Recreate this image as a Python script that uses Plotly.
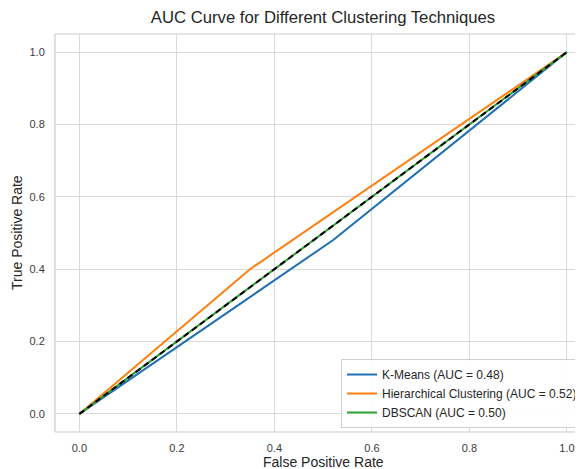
import plotly.graph_objects as go

# Data
kmeans_fpr = [0.0, 0.52, 1.0]
kmeans_tpr = [0.0, 0.48, 1.0]
hier_fpr = [0.0, 0.35, 1.0]
hier_tpr = [0.0, 0.40, 1.0]
dbscan_fpr = [0.0, 1.0]
dbscan_tpr = [0.0, 1.0]
diag = [0.0, 1.0]
names = ["K-Means (AUC = 0.48)", "Hierarchical Clustering (AUC = 0.52)", "DBSCAN (AUC = 0.50)"]
tick_vals = [0.0, 0.2, 0.4, 0.6, 0.8, 1.0]
tick_text = ["0.0", "0.2", "0.4", "0.6", "0.8", "1.0"]

FONT = "Liberation Sans, Arial, sans-serif"
GRID = "#d9d9d9"
TXT = "#3a3a3a"
OFF = 8  # page body margin of the browser
W, H = 583 - OFF, 469 - OFF
ML, MR, MT, MB = 55 - OFF, 0, 34 - OFF, 37
PW, PH = W - ML - MR, H - MT - MB

fig = go.Figure()
fig.add_trace(go.Scatter(x=kmeans_fpr, y=kmeans_tpr, mode="lines", name=names[0],
                         line=dict(color="#1f6fb4", width=2)))
fig.add_trace(go.Scatter(x=hier_fpr, y=hier_tpr, mode="lines", name=names[1],
                         line=dict(color="#ff7f0e", width=2)))
fig.add_trace(go.Scatter(x=dbscan_fpr, y=dbscan_tpr, mode="lines", name=names[2],
                         line=dict(color="#2ca02c", width=2)))
fig.add_trace(go.Scatter(x=diag, y=diag, mode="lines", showlegend=False,
                         line=dict(color="black", width=2, dash="6px,4px")))

fig.update_layout(
    width=W, height=H,
    margin=dict(l=ML, r=MR, t=MT, b=MB, autoexpand=False),
    paper_bgcolor="white", plot_bgcolor="white",
    font=dict(family=FONT, color=TXT, size=11),
    title=dict(text="AUC Curve for Different Clustering Techniques",
               x=(323 - OFF) / W, xanchor="center", y=1 - (17 - OFF) / H, yanchor="middle",
               font=dict(size=16.7, color="#262626")),
    xaxis=dict(range=[-0.05, 1.033], tickvals=tick_vals, ticktext=tick_text,
               showgrid=True, gridcolor=GRID, gridwidth=1, zeroline=False, automargin=False,
               showline=False, ticks="outside", ticklen=6, tickcolor="white"),
    yaxis=dict(range=[-0.05, 1.05], tickvals=tick_vals, ticktext=tick_text,
               showgrid=True, gridcolor=GRID, gridwidth=1, zeroline=False, automargin=False,
               showline=False, ticks="outside", ticklen=7, tickcolor="white"),
    legend=dict(x=1.0, xanchor="right", y=0.01, yanchor="bottom",
                bgcolor="rgba(255,255,255,0.9)", bordercolor="#d0d0d0", borderwidth=1,
                font=dict(size=12, color="#262626"), tracegroupgap=0, itemwidth=30),
    showlegend=True,
    annotations=[
        dict(text="False Positive Rate", xref="paper", yref="paper",
             x=(323 - OFF - ML) / PW, y=-(462 - OFF - (H - MB)) / PH,
             xanchor="center", yanchor="middle", showarrow=False,
             font=dict(size=14, color="#262626")),
        dict(text="True Positive Rate", xref="paper", yref="paper",
             x=-(ML - (17 - OFF)) / PW, y=((H - MB) - (233 - OFF)) / PH,
             xanchor="center", yanchor="middle", showarrow=False, textangle=-90,
             font=dict(size=14, color="#262626")),
    ],
)

# axes frame (left, top, bottom; right edge is cropped in the reference)
for (x0, y0, x1, y1) in [(0, 0, 0, 1), (0, 1, 1, 1), (0, 0, 1, 0)]:
    fig.add_shape(type="line", xref="paper", yref="paper", x0=x0, y0=y0, x1=x1, y1=y1,
                  line=dict(color="#cccccc", width=1.2), layer="below")

fig.write_html("out.html")
